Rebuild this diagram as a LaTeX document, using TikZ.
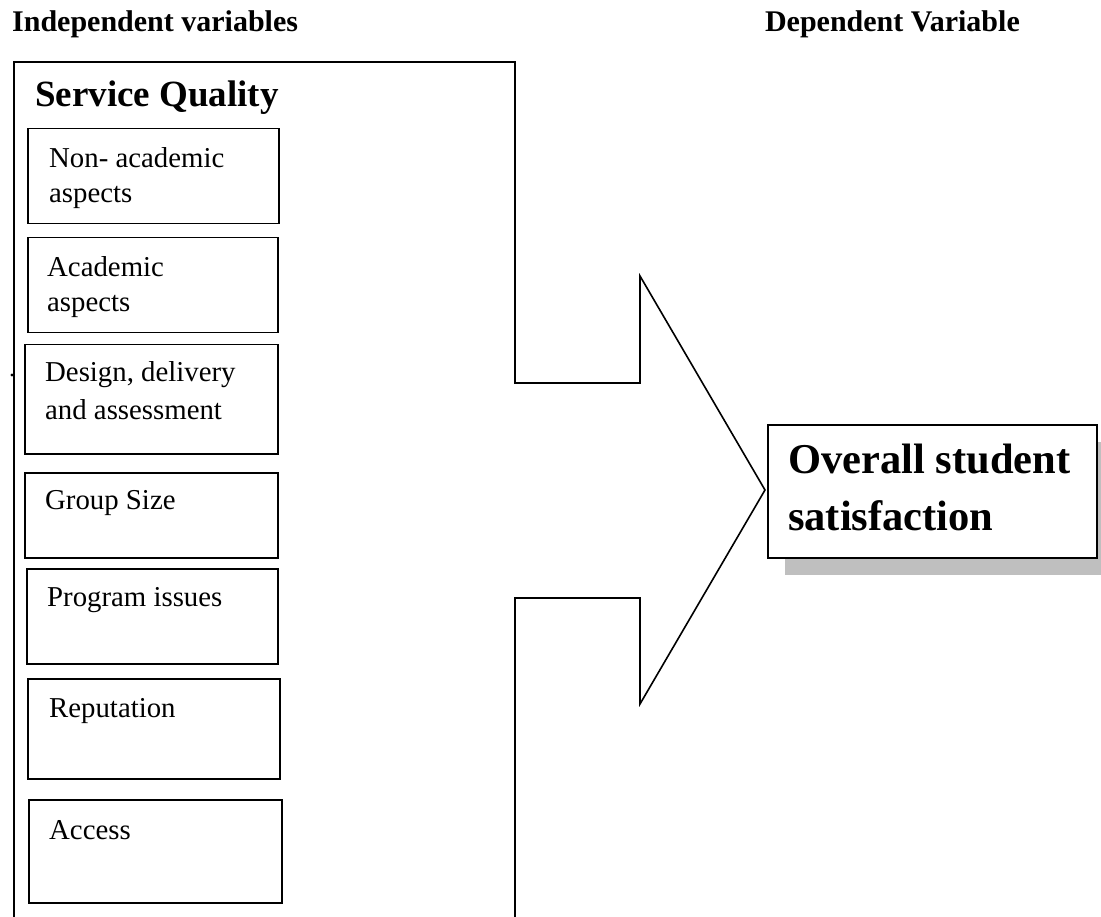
\documentclass[tikz,border=0pt]{standalone}
\usepackage{fontspec}
\setmainfont{Liberation Serif}
\usetikzlibrary{shadows}
\begin{document}
\begin{tikzpicture}[x=1pt,y=-1pt,
  outline/.style={line width=1.6pt, line join=miter},
  ibox/.style={draw, line width=1.5pt, anchor=north west, inner sep=0pt},
  btxt/.style={anchor=base west, inner sep=0pt, align=left, font=\fontsize{28.8}{35}\selectfont},
  head/.style={inner sep=0pt, font=\fontsize{30}{36}\selectfont\bfseries},
  sq/.style={anchor=base west, inner sep=0pt, font=\fontsize{37}{44}\selectfont\bfseries},
  ovbox/.style={draw, line width=1.6pt, fill=white, anchor=north west, inner sep=0pt,
    drop shadow={shadow xshift=17pt, shadow yshift=-17pt, fill=black!25, opacity=1}},
  ovtxt/.style={anchor=base west, inner sep=0pt, align=left, font=\fontsize{42.5}{57}\selectfont\bfseries}
]
\useasboundingbox (0,0) rectangle (1101,917);
\clip (0,0) rectangle (1101,917);

% headers
\node[head, anchor=base west] (hind) at (12,32) {Independent variables};
\node[head, anchor=base east] (hdep) at (1020,32) {Dependent Variable};

% outer block arrow shape
\coordinate (tl) at (14,62);
\coordinate (tr) at (515,62);
\coordinate (a1) at (515,383);
\coordinate (a2) at (640,383);
\coordinate (a3) at (640,276);
\coordinate (tip) at (765,490);
\coordinate (a4) at (640,704);
\coordinate (a5) at (640,598);
\coordinate (a6) at (515,598);
\coordinate (br) at (515,930);
\coordinate (bl) at (14,930);
\draw[outline] (bl) -- (tl) -- (tr) -- (a1) -- (a2) -- (a3) -- (tip) -- (a4) -- (a5) -- (a6) -- (br);
\fill (12,375) circle (1.6);

\node[sq] (sqt) at (35,107) {Service Quality};

% inner boxes (multi-line texts are anchored at the baseline of their last line)
\node[ibox, minimum width=251pt, minimum height=95pt] (b1) at (27,128) {};
\node[btxt] (t1) at (49,203) {Non- academic\\aspects};

\node[ibox, minimum width=250pt, minimum height=95pt] (b2) at (27,237) {};
\node[btxt] (t2) at (47,312) {Academic\\aspects};

\node[ibox, minimum width=253pt, minimum height=109pt] (b3) at (24,344) {};
\node[btxt, font=\fontsize{28.8}{38}\selectfont] (t3) at (45,420) {Design, delivery\\and assessment};

\node[ibox, minimum width=253pt, minimum height=85pt] (b4) at (24,472) {};
\node[btxt] (t4) at (45,509) {Group Size};

\node[ibox, minimum width=251pt, minimum height=95pt] (b5) at (26,568) {};
\node[btxt] (t5) at (47,606) {Program issues};

\node[ibox, minimum width=252pt, minimum height=100pt] (b6) at (27,678) {};
\node[btxt] (t6) at (49,717) {Reputation};

\node[ibox, minimum width=253pt, minimum height=103pt] (b7) at (28,799) {};
\node[btxt] (t7) at (49,839) {Access};

% dependent variable box
\node[ovbox, minimum width=329pt, minimum height=133pt] (ov) at (767,424) {};
\node[ovtxt] (ovt) at (788,530) {Overall student\\satisfaction};
\end{tikzpicture}
\end{document}
